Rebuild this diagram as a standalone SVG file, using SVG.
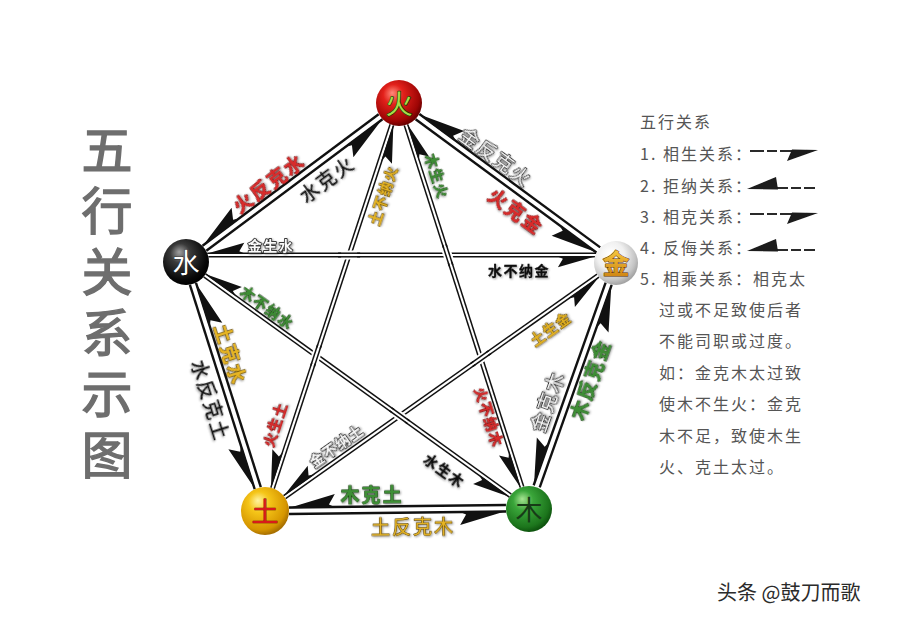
<svg xmlns="http://www.w3.org/2000/svg" width="900" height="624" viewBox="0 0 900 624">
<defs>
<style>
.ol{stroke:#111;stroke-width:2.4;fill:none}
.sl{stroke:#111;stroke-width:1.5;fill:none}
.oh{marker-end:url(#ho)}
.sh{marker-end:url(#hs)}
.lb{font-family:"Noto Sans CJK SC","Noto Sans CJK JP",sans-serif;text-anchor:middle;dominant-baseline:central;paint-order:stroke;stroke-linejoin:round;filter:url(#ds)}
.o{font-size:19px;letter-spacing:2px}
.s{font-size:14px;font-weight:bold;letter-spacing:1.5px}
.red{fill:#d92b2b;stroke:#5a0a0a;stroke-width:0.8px;font-weight:bold}
.blk{fill:#111;stroke:#111;stroke-width:0.3px}
.wht{fill:#fafafa;stroke:#3a3a3a;stroke-width:1.8px}
.grn{fill:#3e8e34;stroke:#15330f;stroke-width:0.8px;font-weight:bold}
.yel{fill:#e6b422;stroke:#4a3500;stroke-width:1px}
.nt{font-family:"Noto Sans CJK SC","Noto Sans CJK JP",sans-serif;font-size:27px;text-anchor:middle;dominant-baseline:central;paint-order:stroke;stroke-linejoin:round}
.lg{font-family:"Noto Sans CJK SC","Noto Sans CJK JP",sans-serif;font-size:16px;fill:#555;letter-spacing:2px;dominant-baseline:central}
.li{stroke:#2a2a2a;stroke-width:2.2;fill:none;stroke-dasharray:14 3 10 3}
.lw{fill:#1a1a1a}
</style>
<filter id="ds" x="-20%" y="-30%" width="140%" height="160%"><feDropShadow dx="1" dy="1" stdDeviation="0.8" flood-color="#000" flood-opacity="0.4"/></filter>
<filter id="bl" filterUnits="userSpaceOnUse" x="735" y="135" width="95" height="130"><feGaussianBlur stdDeviation="0.7"/></filter>
<marker id="ho" markerUnits="userSpaceOnUse" orient="auto" overflow="visible" markerWidth="1" markerHeight="1"><path d="M1,-0.6 L-46,13 L-40,2.5 L-47,-0.6 Z" fill="#111"/></marker>
<marker id="hs" markerUnits="userSpaceOnUse" orient="auto" overflow="visible" markerWidth="1" markerHeight="1"><path d="M1,-0.5 L-37,10.5 L-32,2 L-38,-0.5 Z" fill="#111"/></marker>
<g id="xo"><line x1="-8" y1="0" x2="8" y2="0" stroke="#fff" stroke-width="9"/><line x1="-11" y1="-1.8" x2="11" y2="-1.8" class="sl"/><line x1="-11" y1="1.8" x2="11" y2="1.8" class="sl"/></g>
<radialGradient id="gF" cx="42%" cy="38%" r="62%" fx="35%" fy="28%"><stop offset="0" stop-color="#ff8a7a"/><stop offset="0.35" stop-color="#e3211b"/><stop offset="0.85" stop-color="#9e0505"/><stop offset="1" stop-color="#6a0000"/></radialGradient>
<radialGradient id="gS" cx="42%" cy="38%" r="62%" fx="35%" fy="28%"><stop offset="0" stop-color="#a0a0a0"/><stop offset="0.35" stop-color="#3a3a3a"/><stop offset="0.85" stop-color="#080808"/><stop offset="1" stop-color="#000"/></radialGradient>
<radialGradient id="gJ" cx="42%" cy="38%" r="62%" fx="35%" fy="28%"><stop offset="0" stop-color="#ffffff"/><stop offset="0.5" stop-color="#f0f0f0"/><stop offset="0.85" stop-color="#c4c4c4"/><stop offset="1" stop-color="#a4a4a4"/></radialGradient>
<radialGradient id="gT" cx="42%" cy="38%" r="62%" fx="35%" fy="28%"><stop offset="0" stop-color="#fff3a0"/><stop offset="0.35" stop-color="#f5c518"/><stop offset="0.85" stop-color="#d69600"/><stop offset="1" stop-color="#a87000"/></radialGradient>
<radialGradient id="gM" cx="42%" cy="38%" r="62%" fx="35%" fy="28%"><stop offset="0" stop-color="#a6e492"/><stop offset="0.35" stop-color="#3aa53a"/><stop offset="0.85" stop-color="#1c751c"/><stop offset="1" stop-color="#0e540e"/></radialGradient>
<linearGradient id="gJt" x1="0" y1="0" x2="0" y2="1"><stop offset="0" stop-color="#ffd84a"/><stop offset="1" stop-color="#c97a0c"/></linearGradient>
</defs>
<rect width="900" height="624" fill="#fff"/>

<g id="title">
<text x="107" y="124" writing-mode="vertical-rl" letter-spacing="10" font-family="Noto Sans CJK SC, Noto Sans CJK JP, sans-serif" font-size="51" fill="#6e6e6e" stroke="#6e6e6e" stroke-width="1.4">五行关系示图</text>
</g>

<g id="connectors">
<line class="ol oh" x1="206.34" y1="250.80" x2="382.48" y2="119.32"/>
<line class="ol oh" x1="378.66" y1="114.20" x2="202.52" y2="245.68"/>
<line class="ol oh" x1="415.61" y1="119.23" x2="596.39" y2="252.52"/>
<line class="ol oh" x1="600.19" y1="247.37" x2="419.41" y2="114.07"/>
<line class="ol oh" x1="605.62" y1="282.66" x2="533.68" y2="485.26"/>
<line class="ol oh" x1="539.72" y1="487.40" x2="611.66" y2="284.80"/>
<line class="ol oh" x1="505.96" y1="505.06" x2="288.96" y2="507.53"/>
<line class="ol oh" x1="289.04" y1="513.93" x2="506.04" y2="511.46"/>
<line class="ol oh" x1="260.79" y1="487.16" x2="196.01" y2="282.95"/>
<line class="ol oh" x1="189.91" y1="284.89" x2="254.69" y2="489.09"/>

<line class="sl sh" x1="596.3" y1="253.2" x2="207.3" y2="253.2"/>
<line class="sl sh" x1="208.4" y1="256.8" x2="594.9" y2="256.8"/>
<line class="sl sh" x1="203.61" y1="276.90" x2="509.29" y2="497.02"/>
<line class="sl sh" x1="511.39" y1="494.10" x2="205.71" y2="273.98"/>
<line class="sl sh" x1="390.11" y1="124.29" x2="270.78" y2="487.64"/>
<line class="sl sh" x1="274.20" y1="488.76" x2="393.53" y2="125.41"/>
<line class="sl sh" x1="404.31" y1="125.46" x2="520.27" y2="487.64"/>
<line class="sl sh" x1="523.69" y1="486.54" x2="407.73" y2="124.36"/>
<line class="sl sh" x1="596.99" y1="274.22" x2="283.56" y2="495.68"/>
<line class="sl sh" x1="285.64" y1="498.62" x2="599.07" y2="277.16"/>

<use href="#xo" transform="translate(349.1,255) rotate(0)"/>
<use href="#xo" transform="translate(447.7,255) rotate(72.24)"/>
<use href="#xo" transform="translate(316.0,355.6) rotate(108.18)"/>
<use href="#xo" transform="translate(399.6,415.8) rotate(35.76)"/>
<use href="#xo" transform="translate(480.8,358.5) rotate(144.75)"/>
</g>

<g id="labels">
<text class="lb o red" transform="translate(268,182) rotate(-36.74)">火反克水</text>
<text class="lb o blk" transform="translate(326,178) rotate(-36.74)">水克火</text>
<text class="lb o wht" transform="translate(497,156) rotate(36.4)">金反克火</text>
<text class="lb o red" transform="translate(517,210) rotate(36.4)">火克金</text>
<text class="lb o wht" transform="translate(546,401) rotate(-70.45)">金克木</text>
<text class="lb o grn" transform="translate(589,379) rotate(-70.45)">木反克金</text>
<text class="lb o grn" transform="translate(372,493) rotate(-0.65)">木克土</text>
<text class="lb o yel" transform="translate(413,525) rotate(-0.65)">土反克木</text>
<text class="lb o yel" transform="translate(232,354) rotate(72.4)" font-weight="bold">土克水</text>
<text class="lb o blk" transform="translate(212,400) rotate(72.4)">水反克土</text>

<text class="lb s wht" transform="translate(271,245)">金生水</text>
<text class="lb s blk" transform="translate(519,270)">水不纳金</text>
<text class="lb s grn" transform="translate(268,307) rotate(35.76)">木不纳水</text>
<text class="lb s blk" transform="translate(445,470) rotate(35.76)">水生木</text>
<text class="lb s yel" transform="translate(382,195) rotate(-71.82)">土不纳火</text>
<text class="lb s red" transform="translate(274,424) rotate(-71.82)">火生土</text>
<text class="lb s grn" transform="translate(438,176) rotate(72.24)">木生火</text>
<text class="lb s red" transform="translate(490,417) rotate(72.24)">火不纳木</text>
<text class="lb s yel" transform="translate(550,328) rotate(-35.25)">土生金</text>
<text class="lb s wht" transform="translate(336,445) rotate(-35.25)">金不纳土</text>
</g>

<g id="node-huo"><circle cx="399" cy="103" r="23" fill="url(#gF)"/><text class="nt" x="399" y="102" fill="#a8dc4a" stroke="#1f3d00" stroke-width="1.4">火</text></g>
<g id="node-shui"><circle cx="186" cy="262" r="23" fill="url(#gS)"/><text class="nt" x="186" y="261" fill="#fff" stroke="#000" stroke-width="0.6">水</text></g>
<g id="node-jin"><circle cx="616" cy="263" r="22" fill="url(#gJ)"/><text class="nt" x="616" y="262" fill="url(#gJt)" stroke="#5a3000" stroke-width="1" font-weight="bold">金</text></g>
<g id="node-tu"><circle cx="265" cy="511" r="24" fill="url(#gT)"/><text class="nt" x="265" y="510" fill="#d81b1b" stroke="#5a0000" stroke-width="0.6">土</text></g>
<g id="node-mu"><circle cx="529" cy="509" r="23" fill="url(#gM)"/><text class="nt" x="529" y="508" fill="#173b17">木</text></g>

<g id="legend">
<text class="lg" x="640" y="121">五行关系</text>
<text class="lg" x="640" y="153">1. 相生关系：</text>
<text class="lg" x="640" y="185">2. 拒纳关系：</text>
<text class="lg" x="640" y="216">3. 相克关系：</text>
<text class="lg" x="640" y="247">4. 反侮关系：</text>
<text class="lg" x="640" y="278">5. 相乘关系：相克太</text>
<text class="lg" x="659" y="309">过或不足致使后者</text>
<text class="lg" x="659" y="340">不能司职或过度。</text>
<text class="lg" x="659" y="372">如：金克木太过致</text>
<text class="lg" x="659" y="403">使木不生火：金克</text>
<text class="lg" x="659" y="435">木不足，致使木生</text>
<text class="lg" x="659" y="466">火、克土太过。</text>
<g filter="url(#bl)">
<line class="li" x1="750" y1="151" x2="812" y2="151"/>
<path class="lw" d="M818,150 L792,149.5 L787,161 Z"/>
<line class="li" x1="774" y1="188" x2="815" y2="188"/>
<path class="lw" d="M747,189 L778,189.5 L776,177 Z"/>
<line class="li" x1="750" y1="214" x2="812" y2="214"/>
<path class="lw" d="M818,213 L792,212.5 L787,224 Z"/>
<line class="li" x1="774" y1="250" x2="815" y2="250"/>
<path class="lw" d="M747,251 L778,251.5 L776,239 Z"/>
</g>
</g>

<g id="watermark"><text x="717" y="591" font-family="Noto Sans CJK SC, Noto Sans CJK JP, sans-serif" font-size="20" fill="#2b2b2b" dominant-baseline="central">头条 @鼓刀而歌</text></g>
</svg>
